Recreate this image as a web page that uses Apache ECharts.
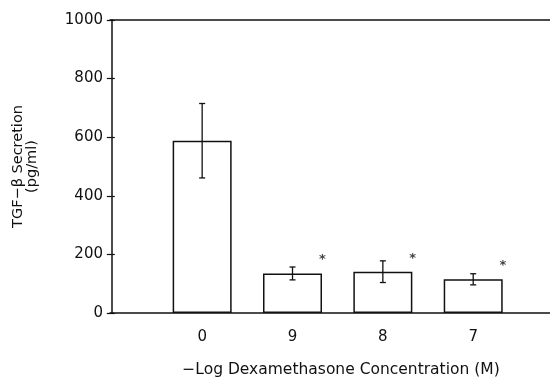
<!DOCTYPE html>
<html>
<head>
<meta charset="utf-8">
<script src="https://cdn.jsdelivr.net/npm/echarts@6/dist/echarts.min.js"></script>
<style>
	html, body { margin: 0; padding: 0; background: #fff; }
	#chart { width: 550px; height: 379px; }
</style>
</head>
<body>
<div id="chart"></div>
<script>
	// -Log dexamethasone concentration groups
	var categories = ['0', '9', '8', '7'];
	var positions = [1, 2, 3, 4];
	// TGF-beta secretion (pg/ml), mean and error
	var means = [588, 135, 141, 115];
	var errors = [127, 22, 37, 19];
	// height of the significance asterisks
	var starY = [196, 200, 177];
	var starPos = [2, 3, 4];
	var yTicks = [0, 200, 400, 600, 800, 1000];

	var font = 'DejaVu Sans';
	var halfBar = 0.33;

	var myChart = echarts.init(document.getElementById('chart'));

	var barData = positions.map(function (p, i) { return [p, means[i]]; });
	var errData = positions.map(function (p, i) { return [p, means[i] - errors[i], means[i] + errors[i]]; });
	var starData = starPos.map(function (p, i) { return [p + halfBar, starY[i]]; });

	var option = {
		animation: false,
		grid: { left: 110, right: 0, top: 20, bottom: 66, outerBoundsMode: 'none' },
		xAxis: [{
			type: 'value',
			min: -0.02,
			max: 4.85,
			splitLine: { show: false },
			axisLine: { lineStyle: { color: '#111', width: 1.5 } },
			axisTick: { show: false },
			axisLabel: {
				customValues: positions,
				formatter: function (v) { return categories[positions.indexOf(v)] || ''; },
				color: '#111', fontFamily: font, fontSize: 15, margin: 17
			},
			name: '\u2212Log Dexamethasone Concentration (M)',
			nameLocation: 'middle',
			nameGap: 49,
			nameTextStyle: { color: '#111', fontFamily: font, fontSize: 15.5, padding: [0, 0, 0, 22] }
		}, {
			type: 'value',
			position: 'top',
			min: -0.02,
			max: 4.85,
			splitLine: { show: false },
			axisLine: { onZero: false, lineStyle: { color: '#111', width: 1.5 } },
			axisTick: { show: false },
			axisLabel: { show: false }
		}],
		yAxis: [{
			type: 'value',
			min: 0,
			max: 1000,
			interval: 200,
			splitLine: { show: false },
			axisLine: { show: true, lineStyle: { color: '#111', width: 1.5 } },
			axisTick: { show: true, length: 5, lineStyle: { color: '#111', width: 1.2 } },
			axisLabel: { color: '#111', fontFamily: font, fontSize: 15, margin: 7,
				formatter: function (v) { return yTicks.indexOf(v) >= 0 ? String(v) : ''; } },
			name: 'TGF\u2212\u03b2 Secretion\n(pg/ml)',
			nameLocation: 'middle',
			nameGap: 71,
			nameTextStyle: { color: '#111', fontFamily: font, fontSize: 14.5, lineHeight: 14 }
		}, {
			type: 'value',
			position: 'left',
			min: 0,
			max: 1000,
			interval: 200,
			splitLine: { show: false },
			axisLine: { show: false },
			axisTick: { show: true, inside: true, length: 3, lineStyle: { color: '#111', width: 1.2 } },
			axisLabel: { show: false }
		}],
		series: [{
			type: 'bar',
			data: barData,
			barWidth: 59,
			itemStyle: { color: '#fff', borderColor: '#111', borderWidth: 1.5 }
		}, {
			type: 'custom',
			data: errData,
			z: 5,
			renderItem: function (params, api) {
				var x = api.value(0);
				var lo = api.coord([x, api.value(1)]);
				var hi = api.coord([x, api.value(2)]);
				var cap = 3;
				var st = { stroke: '#111', lineWidth: 1.3 };
				return {
					type: 'group',
					children: [
						{ type: 'line', shape: { x1: lo[0], y1: lo[1], x2: hi[0], y2: hi[1] }, style: st },
						{ type: 'line', shape: { x1: lo[0] - cap, y1: lo[1], x2: lo[0] + cap, y2: lo[1] }, style: st },
						{ type: 'line', shape: { x1: hi[0] - cap, y1: hi[1], x2: hi[0] + cap, y2: hi[1] }, style: st }
					]
				};
			}
		}, {
			type: 'scatter',
			data: starData,
			symbolSize: 0,
			label: {
				show: true,
				position: 'inside',
				formatter: '*',
				color: '#111',
				fontFamily: font,
				fontSize: 13,
				fontWeight: 'bold',
				offset: [0, 4]
			}
		}]
	};
	myChart.setOption(option);
</script>
</body>
</html>
